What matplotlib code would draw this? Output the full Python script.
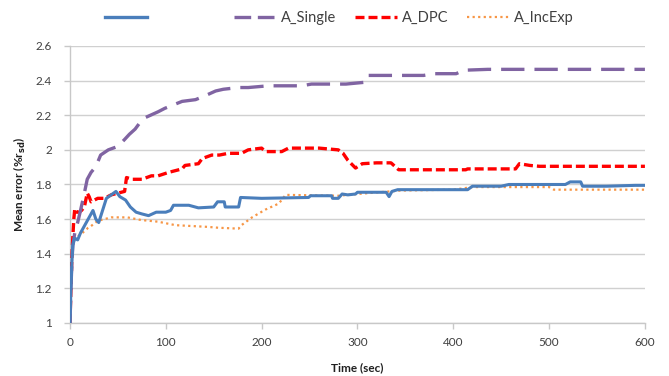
import matplotlib
matplotlib.use("Agg")
import matplotlib.pyplot as plt
from matplotlib.lines import Line2D

plt.rcParams['font.family'] = ['Lato', 'DejaVu Sans']

# ---- data ----
blue_t = [0, 1, 2, 3, 5, 8, 11, 15, 19, 24, 27, 30, 34, 38, 43, 48, 52, 58, 63, 69, 75, 82, 90, 100,
          105, 108, 124, 134, 150, 154, 161, 162, 176, 178, 200, 249, 251, 273, 274, 280, 284, 290,
          298, 300, 308, 330, 333, 336, 342, 380, 415, 420, 450, 458, 490, 517, 522, 533, 535, 560, 590, 600]
blue_v = [1.0, 1.2, 1.35, 1.45, 1.49, 1.48, 1.52, 1.56, 1.6, 1.65, 1.6, 1.58, 1.65, 1.72, 1.74, 1.76,
          1.73, 1.71, 1.67, 1.64, 1.63, 1.62, 1.64, 1.64, 1.65, 1.68, 1.68, 1.665, 1.67, 1.70, 1.70,
          1.67, 1.67, 1.725, 1.72, 1.725, 1.735, 1.735, 1.72, 1.72, 1.745, 1.74, 1.745, 1.755, 1.755,
          1.755, 1.73, 1.76, 1.77, 1.77, 1.77, 1.79, 1.79, 1.80, 1.80, 1.80, 1.815, 1.815, 1.79, 1.79,
          1.795, 1.795]

single_t = [0, 1, 2, 3, 5, 8, 11, 15, 18, 22, 25, 29, 32, 40, 50, 57, 62, 68, 76, 84, 92, 99, 108, 117,
            131, 140, 152, 160, 176, 186, 207, 220, 242, 252, 277, 288, 307, 310, 337, 348, 369, 380,
            403, 411, 436, 600]
single_v = [1.0, 1.2, 1.35, 1.45, 1.52, 1.58, 1.65, 1.75, 1.83, 1.87, 1.89, 1.93, 1.97, 2.0, 2.02, 2.06,
            2.09, 2.12, 2.18, 2.2, 2.22, 2.24, 2.26, 2.28, 2.29, 2.31, 2.34, 2.35, 2.36, 2.36, 2.37,
            2.37, 2.37, 2.38, 2.38, 2.38, 2.39, 2.43, 2.43, 2.43, 2.43, 2.44, 2.44, 2.46, 2.465, 2.465]

dpc_t = [0, 1, 2, 3, 4, 5, 7, 9.5, 12, 15, 18, 20, 22, 29, 36, 43, 50, 57, 59, 65, 75, 85, 92, 103,
         110, 117, 120, 134, 138, 148, 156, 165, 179, 186, 200, 204, 221, 228, 260, 280, 285, 290,
         298, 305, 320, 335, 343, 347, 380, 413, 415, 465, 469, 480, 490, 600]
dpc_v = [1.0, 1.2, 1.38, 1.5, 1.6, 1.66, 1.64, 1.64, 1.65, 1.67, 1.75, 1.73, 1.70, 1.72, 1.72, 1.74,
         1.75, 1.76, 1.84, 1.83, 1.83, 1.85, 1.85, 1.87, 1.88, 1.89, 1.91, 1.92, 1.95, 1.97, 1.97,
         1.98, 1.98, 2.0, 2.01, 1.99, 1.99, 2.01, 2.01, 2.0, 1.98, 1.94, 1.895, 1.92, 1.925, 1.925,
         1.885, 1.885, 1.885, 1.885, 1.89, 1.89, 1.92, 1.91, 1.905, 1.905]

incexp_t = [0, 1, 2, 3, 5, 11, 15, 19, 22, 29, 36, 43, 60, 74, 92, 110, 144, 155, 176, 179, 190, 204,
            218, 225, 280, 300, 345, 400, 420, 500, 505, 600]
incexp_v = [1.0, 1.2, 1.35, 1.45, 1.49, 1.51, 1.53, 1.55, 1.56, 1.59, 1.60, 1.61, 1.61, 1.595, 1.585,
            1.565, 1.555, 1.55, 1.545, 1.565, 1.61, 1.655, 1.69, 1.74, 1.735, 1.745, 1.765, 1.77,
            1.785, 1.785, 1.77, 1.77]

labels = [" " * 17, "A_Single", "A_DPC", "A_IncExp"]
x_ticks = [0, 100, 200, 300, 400, 500, 600]
y_ticks = [1, 1.2, 1.4, 1.6, 1.8, 2, 2.2, 2.4, 2.6]
y_tick_labels = ["1", "1.2", "1.4", "1.6", "1.8", "2", "2.2", "2.4", "2.6"]

# ---- figure ----
fig = plt.figure(figsize=(6.69, 3.76), dpi=100)
ax = fig.add_axes([0.1046, 0.141, 0.964 - 0.1046, 0.8777 - 0.141])

c_blue = "#4a7ebb"
c_purple = "#8064a2"
c_red = "#ff0000"
c_orange = "#f79646"

ls_purple = (0, (7, 3))
ls_red = (0, (2.7, 1.2))
ls_orange = (0, (1, 1.5))

ax.plot(incexp_t, incexp_v, color=c_orange, lw=1.6, linestyle=ls_orange, zorder=3)
ax.plot(dpc_t, dpc_v, color=c_red, lw=2.4, linestyle=ls_red, zorder=4)
ax.plot(single_t, single_v, color=c_purple, lw=2.4, linestyle=ls_purple, zorder=5)
ax.plot(blue_t, blue_v, color=c_blue, lw=2.2, zorder=6)

ax.set_xlim(0, 600)
ax.set_ylim(1, 2.6)
ax.set_xticks(x_ticks)
ax.set_yticks(y_ticks)
ax.set_yticklabels(y_tick_labels)
ax.yaxis.grid(True, color="#d0d0d0", lw=1.0)
ax.set_axisbelow(True)
for s in ["top", "right"]:
    ax.spines[s].set_visible(False)
for s in ["left", "bottom"]:
    ax.spines[s].set_color("#c8c8c8")
    ax.spines[s].set_linewidth(1.0)
ax.tick_params(axis="both", colors="#c8c8c8", labelcolor="#404040", labelsize=8.5, length=4, width=1)
ax.tick_params(axis="x", pad=6)
ax.tick_params(axis="y", pad=9)

ax.set_xlabel("Time (sec)", fontsize=8.5, fontweight="bold", color="#202020", labelpad=10)
ax.set_ylabel("Mean error (%r$_{\\mathbf{sd}}$)", fontsize=8.5, fontweight="bold", color="#202020", labelpad=5)

handles = [
    Line2D([], [], color=c_blue, lw=2.4),
    Line2D([], [], color=c_purple, lw=2.4, linestyle=(0, (5, 2))),
    Line2D([], [], color=c_red, lw=2.4, linestyle=ls_red),
    Line2D([], [], color=c_orange, lw=1.6, linestyle=ls_orange),
]
fig.legend(handles, labels, loc="center", bbox_to_anchor=(0.507, 0.952), ncol=4, frameon=False,
           fontsize=10.5, handlelength=2.9, handletextpad=0.3, columnspacing=1.3, labelcolor="#404040")

fig.savefig("out.png", dpi=100)
